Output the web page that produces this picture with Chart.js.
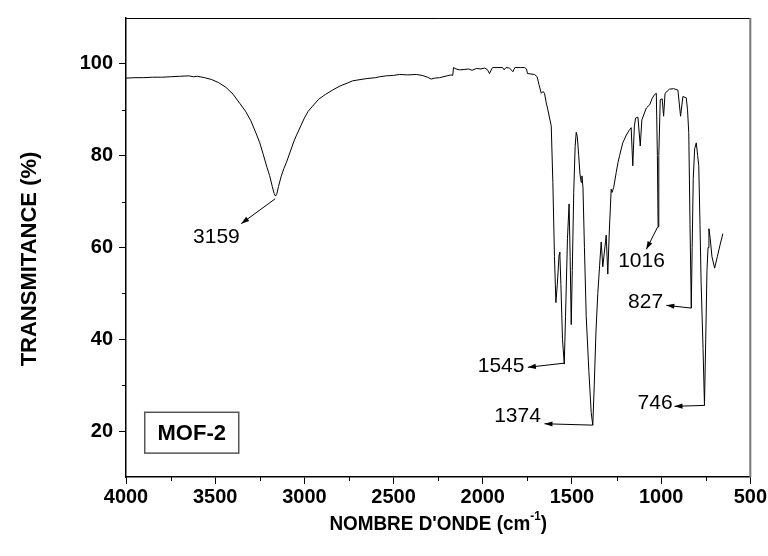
<!DOCTYPE html>
<html>
<head>
<meta charset="utf-8">
<script src="https://cdn.jsdelivr.net/npm/chart.js@4.4.1/dist/chart.umd.min.js"></script>
<style>
  html, body { margin: 0; padding: 0; background: #fff; }
  canvas { display: block; }
</style>
</head>
<body>
<canvas id="irChart" width="768" height="556"></canvas>
<script>
'use strict';

// spectrum: wavenumber (cm-1) -> transmittance (%)
const wavenumbers = [
  4000, 3950, 3900, 3850, 3800, 3750, 3700, 3650, 3620, 3600,
  3560, 3520, 3480, 3440, 3400, 3360, 3330, 3300, 3270, 3250,
  3230, 3210, 3195, 3180, 3170, 3162, 3155, 3145, 3130, 3115,
  3100, 3080, 3060, 3046, 3020, 3000, 2980, 2954, 2920, 2880,
  2842, 2800, 2760, 2730, 2700, 2650, 2600, 2579, 2540, 2500,
  2467, 2420, 2373, 2340, 2310, 2289, 2270, 2242, 2200, 2177,
  2168, 2164, 2150, 2130, 2100, 2080, 2060, 2036, 2010, 1990,
  1975, 1962, 1950, 1944, 1920, 1889, 1880, 1870, 1850, 1831,
  1820, 1790, 1766, 1755, 1749, 1730, 1710, 1695, 1685, 1672,
  1662, 1654, 1644, 1635, 1616, 1607, 1598, 1590, 1582, 1572,
  1568, 1562, 1553, 1543, 1536, 1525, 1516, 1510, 1504, 1498,
  1490, 1482, 1476, 1470, 1462, 1455, 1448, 1444, 1438, 1430,
  1420, 1405, 1392, 1383, 1375, 1365, 1355, 1345, 1336, 1327,
  1308, 1299, 1290, 1280, 1275, 1266, 1252, 1242, 1233, 1215,
  1195, 1180, 1168, 1159, 1150, 1143, 1130, 1117, 1108, 1083,
  1064, 1050, 1037, 1027, 1021, 1017, 1013, 1005, 994, 986,
  978, 953, 930, 906, 891, 878, 859, 852, 845, 838,
  831, 826, 820, 812, 803, 795, 789, 782, 776, 765,
  757, 750, 743, 737, 732, 725, 715, 700, 685, 670,
  654
];
const transmittance = [
  96.9, 97.0, 97.0, 97.1, 97.1, 97.2, 97.3, 97.4, 97.2, 97.3,
  97.0, 96.6, 95.9, 94.9, 93.4, 91.3, 89.7, 87.6, 84.8, 82.8,
  80.2, 77.5, 75.7, 73.3, 71.8, 71.2, 71.6, 73.3, 75.5, 77.2,
  78.6, 80.8, 83.0, 84.3, 86.5, 88.2, 89.6, 90.8, 92.3, 93.4,
  94.3, 95.2, 95.8, 96.3, 96.5, 96.8, 97.0, 97.2, 97.4, 97.5,
  97.7, 97.6, 97.7, 97.5, 97.1, 96.7, 96.9, 97.0, 97.4, 97.6,
  97.5, 99.2, 98.9, 98.7, 98.8, 98.9, 98.6, 99.0, 98.9, 99.1,
  98.8, 97.9, 98.9, 99.2, 99.2, 99.2, 98.7, 99.2, 99.1, 98.3,
  99.2, 99.2, 99.2, 98.9, 97.9, 97.8, 97.7, 97.2, 95.5, 93.6,
  94.0, 93.6, 91.5, 90.0, 86.5, 74.2, 58.0, 48.0, 52.0, 58.5,
  59.0, 52.0, 40.0, 34.6, 45.0, 62.0, 69.5, 58.0, 43.2, 55.0,
  72.0, 82.0, 85.1, 84.2, 80.0, 76.0, 74.2, 75.6, 73.0, 60.0,
  45.0, 33.0, 24.0, 21.3, 30.0, 42.0, 50.0, 56.0, 61.2, 55.8,
  62.7, 54.2, 64.0, 72.7, 72.0, 73.1, 76.3, 78.5, 80.0, 82.8,
  84.5, 85.5, 86.1, 77.8, 86.5, 88.2, 88.4, 82.1, 87.8, 90.4,
  91.1, 92.5, 93.3, 93.6, 80.0, 64.5, 80.0, 92.2, 92.4, 88.6,
  93.6, 94.5, 94.6, 94.3, 88.6, 92.9, 92.6, 90.0, 85.0, 65.0,
  46.8, 60.0, 75.0, 81.5, 82.8, 80.0, 77.8, 65.0, 52.6, 38.0,
  25.6, 40.0, 55.0, 60.0, 64.1, 62.0, 58.0, 55.5, 58.0, 60.5,
  63.0
];

const xTicks = [4000, 3500, 3000, 2500, 2000, 1500, 1000, 500];
const xMinor = [3750, 3250, 2750, 2250, 1750, 1250, 750];
const yTicks = [20, 40, 60, 80, 100];
const yMinor = [30, 50, 70, 90];

const peakNames = ['3159', '1016', '827', '1545', '1374', '746'];
const sampleName = 'MOF-2';
const xTitle = "NOMBRE D'ONDE (cm";
const xTitleSup = '-1';
const yTitle = 'TRANSMITANCE (%)';

// arrow tail / head and label centre for each peak, in data units
const peakMarks = [
  { from: [3164, 70.6], to: [3354, 65.2], at: [3493, 62.3] },
  { from: [1019, 64.5], to: [1083, 59.6], at: [1110, 57.1] },
  { from: [831, 46.8], to: [971, 47.4], at: [1087, 48.0] },
  { from: [1543, 34.8], to: [1747, 33.9], at: [1897, 34.2] },
  { from: [1383, 21.3], to: [1654, 21.6], at: [1805, 23.2] },
  { from: [757, 25.6], to: [925, 25.4], at: [1034, 26.1] },
];
const sampleBox = { x0: 3895, x1: 3368, y0: 24.1, y1: 15.2 };

const FONT = '"Liberation Sans", Arial, sans-serif';
Chart.defaults.font.family = FONT;
Chart.defaults.color = '#000';

function arrowHead(ctx, x0, y0, x1, y1) {
  const ang = Math.atan2(y1 - y0, x1 - x0);
  const len = 8, half = 2.6;
  ctx.beginPath();
  ctx.moveTo(x1, y1);
  ctx.lineTo(x1 - len * Math.cos(ang) + half * Math.sin(ang), y1 - len * Math.sin(ang) - half * Math.cos(ang));
  ctx.lineTo(x1 - len * Math.cos(ang) - half * Math.sin(ang), y1 - len * Math.sin(ang) + half * Math.cos(ang));
  ctx.closePath();
  ctx.fill();
}

const decorations = {
  id: 'decorations',
  afterDraw(chart) {
    const ctx = chart.ctx;
    const xs = chart.scales.x;
    const ys = chart.scales.y;
    const a = chart.chartArea;
    ctx.save();

    // top and right frame
    ctx.strokeStyle = '#000';
    ctx.lineWidth = 1;
    ctx.beginPath();
    ctx.moveTo(a.left, a.top + 0.5);
    ctx.lineTo(a.right, a.top + 0.5);
    ctx.stroke();
    ctx.strokeStyle = '#777';
    ctx.lineWidth = 2;
    ctx.beginPath();
    ctx.moveTo(a.right, a.top);
    ctx.lineTo(a.right, a.bottom);
    ctx.stroke();

    // minor ticks
    ctx.strokeStyle = '#000';
    ctx.lineWidth = 1;
    ctx.beginPath();
    xMinor.forEach((v) => {
      const px = Math.round(xs.getPixelForValue(v)) + 0.5;
      ctx.moveTo(px, a.bottom);
      ctx.lineTo(px, a.bottom + 4);
    });
    yMinor.forEach((v) => {
      const py = Math.round(ys.getPixelForValue(v)) + 0.5;
      ctx.moveTo(a.left, py);
      ctx.lineTo(a.left - 4, py);
    });
    ctx.stroke();

    // peak arrows and labels
    ctx.fillStyle = '#000';
    ctx.font = '21px ' + FONT;
    ctx.textAlign = 'center';
    ctx.textBaseline = 'middle';
    peakMarks.forEach((m, i) => {
      const x0 = xs.getPixelForValue(m.from[0]);
      const y0 = ys.getPixelForValue(m.from[1]);
      const x1 = xs.getPixelForValue(m.to[0]);
      const y1 = ys.getPixelForValue(m.to[1]);
      ctx.beginPath();
      ctx.moveTo(x0, y0);
      ctx.lineTo(x1, y1);
      ctx.stroke();
      arrowHead(ctx, x0, y0, x1, y1);
      ctx.fillText(peakNames[i], xs.getPixelForValue(m.at[0]), ys.getPixelForValue(m.at[1]));
    });

    // sample box
    const bx0 = xs.getPixelForValue(sampleBox.x0);
    const bx1 = xs.getPixelForValue(sampleBox.x1);
    const by0 = ys.getPixelForValue(sampleBox.y0);
    const by1 = ys.getPixelForValue(sampleBox.y1);
    ctx.strokeStyle = '#555';
    ctx.lineWidth = 1.5;
    ctx.strokeRect(bx0, by0, bx1 - bx0, by1 - by0);
    ctx.font = 'bold 22px ' + FONT;
    ctx.fillText(sampleName, (bx0 + bx1) / 2, (by0 + by1) / 2 + 1);

    // x axis title, slightly condensed, with superscript
    ctx.save();
    ctx.font = 'bold 21px ' + FONT;
    ctx.textAlign = 'left';
    ctx.textBaseline = 'alphabetic';
    const mainW = ctx.measureText(xTitle).width;
    ctx.font = 'bold 13px ' + FONT;
    const supW = ctx.measureText(xTitleSup).width;
    ctx.font = 'bold 21px ' + FONT;
    const closeW = ctx.measureText(')').width;
    const sx = 0.9;
    ctx.translate((a.left + a.right) / 2 - sx * (mainW + supW + closeW) / 2, 530);
    ctx.scale(sx, 1);
    let tx = 0;
    ctx.fillText(xTitle, tx, 0);
    tx += mainW;
    ctx.font = 'bold 13px ' + FONT;
    ctx.fillText(xTitleSup, tx, -10);
    tx += supW;
    ctx.font = 'bold 21px ' + FONT;
    ctx.fillText(')', tx, 0);
    ctx.restore();

    // y axis title
    ctx.font = 'bold 22px ' + FONT;
    ctx.translate(30, 259);
    ctx.rotate(-Math.PI / 2);
    ctx.textAlign = 'center';
    ctx.textBaseline = 'middle';
    ctx.fillText(yTitle, 0, 0);
    ctx.restore();
  },
};

const points = wavenumbers.map((w, i) => ({ x: w, y: transmittance[i] }));

new Chart(document.getElementById('irChart'), {
  type: 'line',
  data: {
    datasets: [
      {
        data: points,
        borderColor: '#000',
        borderWidth: 1,
        pointRadius: 0,
        tension: 0,
        fill: false,
      },
    ],
  },
  options: {
    responsive: false,
    animation: false,
    events: [],
    layout: { padding: { top: 14, right: 17, left: 0, bottom: 0 } },
    plugins: { legend: { display: false }, tooltip: { enabled: false } },
    scales: {
      x: {
        type: 'linear',
        reverse: true,
        min: 500,
        max: 4000,
        afterBuildTicks: (s) => { s.ticks = xTicks.map((v) => ({ value: v })); },
        afterFit: (s) => { s.height = 79; },
        ticks: {
          autoSkip: false,
          maxRotation: 0,
          padding: 1,
          color: '#000',
          font: { size: 20, weight: 'bold' },
          callback: (v) => String(v),
        },
        grid: { drawOnChartArea: false, color: '#000', tickLength: 7, tickWidth: 1 },
        border: { color: '#000', width: 1.5 },
      },
      y: {
        min: 10,
        max: 110,
        afterBuildTicks: (s) => { s.ticks = yTicks.map((v) => ({ value: v })); },
        afterFit: (s) => { s.width = 126; },
        ticks: {
          padding: 6,
          color: '#000',
          font: { size: 20, weight: 'bold' },
          callback: (v) => String(v),
        },
        grid: { drawOnChartArea: false, color: '#000', tickLength: 7, tickWidth: 1 },
        border: { color: '#000', width: 1.5 },
      },
    },
  },
  plugins: [decorations],
});
</script>
</body>
</html>
